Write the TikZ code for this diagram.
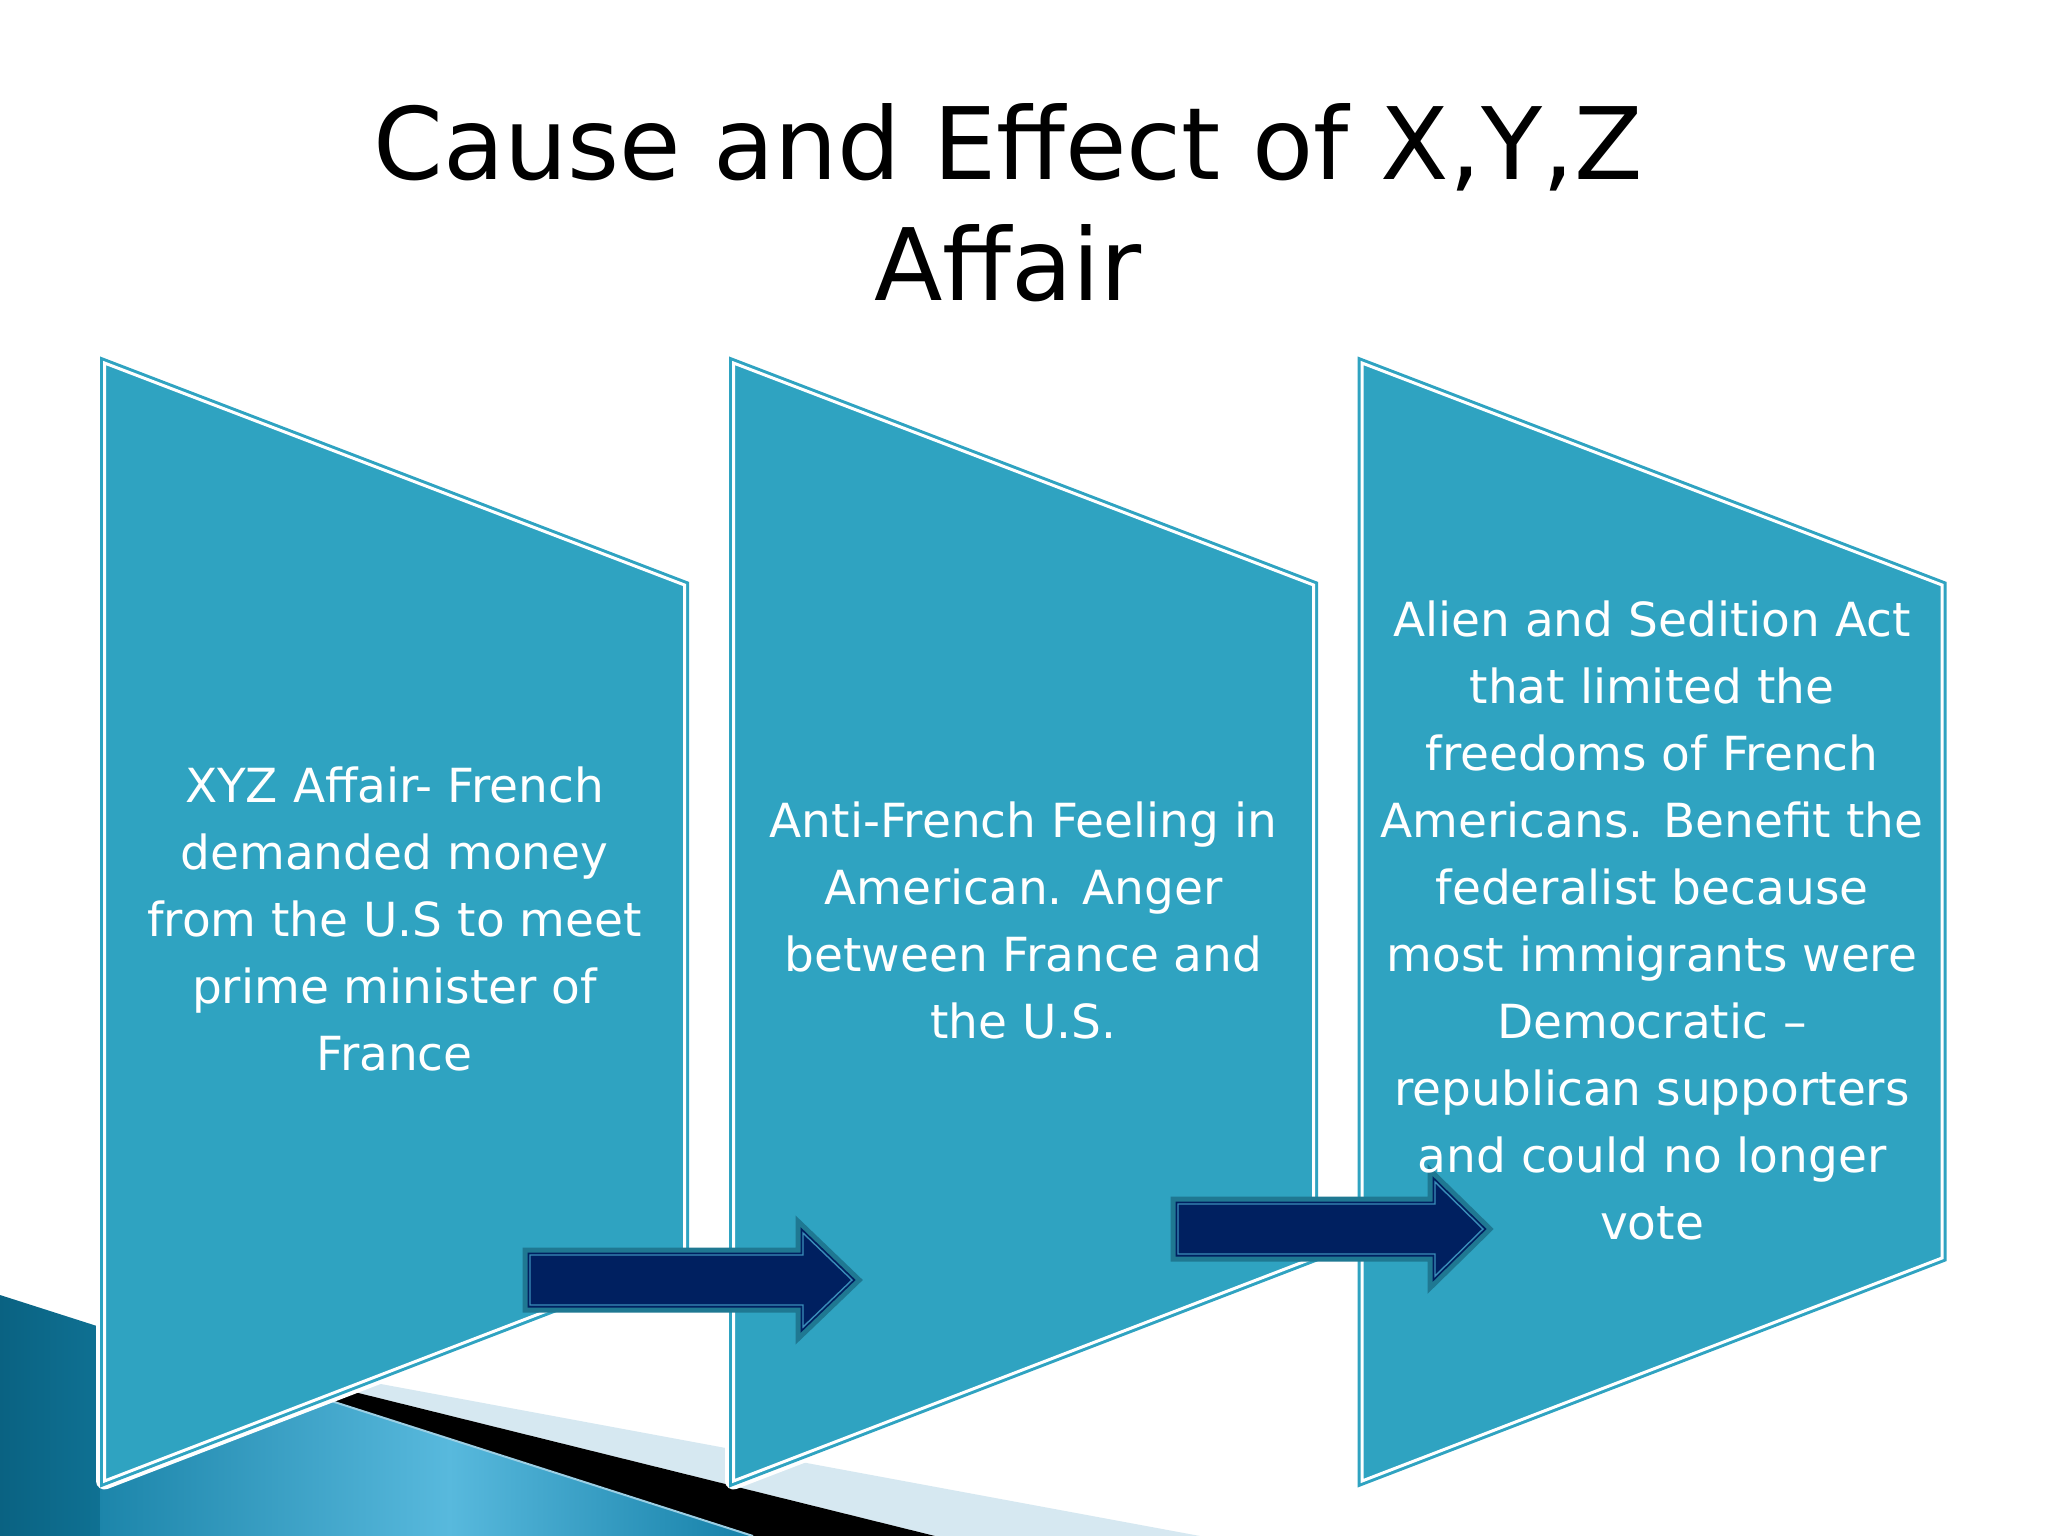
\documentclass[tikz,border=0pt]{standalone}
\usepackage{fontspec}
\setmainfont{DejaVu Sans}
\definecolor{panelc}{HTML}{2FA3C1}
\definecolor{arrowedge}{HTML}{1F7892}
\definecolor{navy}{HTML}{002060}
\definecolor{arrowline}{HTML}{3A8DB8}
\definecolor{bandc}{HTML}{D6E8F1}
\definecolor{bluedarkest}{HTML}{0A6282}
\definecolor{bluedark}{HTML}{0F7193}
\definecolor{blueleft}{HTML}{1C85AA}
\definecolor{bluemid}{HTML}{58B9DD}
\definecolor{blueright}{HTML}{1580A8}
\definecolor{edgeline}{HTML}{9CCFE4}
\tikzset{
  halo/.style={draw=white, line width=17pt, line join=round},
  panel/.style={fill=panelc, draw=panelc, double=white, double distance=3pt, line width=3pt, line join=miter},
  arrowband/.style={draw=arrowedge, line width=15pt, line join=miter},
  arrowcore/.style={fill=navy, draw=navy, double=arrowline, double distance=1.4pt, line width=1.8pt, line join=miter},
  bodytext/.style={text=white, font=\fontsize{47}{67}\selectfont, anchor=base, inner sep=0pt},
  titletext/.style={text=black, font=\fontsize{100}{121}\selectfont, anchor=base, inner sep=0pt}
}
\begin{document}
\begin{tikzpicture}[x=1pt,y=-1pt]
\useasboundingbox (0,0) rectangle (2048,1536);
\fill[white] (0,0) rectangle (2048,1536);

% background decoration, bottom left
\shade[left color=blueleft, right color=bluemid]
  (99,1327) -- (450,1439) -- (450,1536) -- (99,1536) -- cycle;
\shade[left color=bluemid, right color=blueright]
  (449,1439) -- (753,1536) -- (449,1536) -- cycle;
\shade[left color=bluedarkest, right color=bluedark]
  (0,1295) -- (100,1327) -- (100,1536) -- (0,1536) -- cycle;
\fill[bandc] (300,1369) -- (1200,1536) -- (935,1536) -- (300,1378.5) -- cycle;
\fill[black] (300,1378.5) -- (935,1536) -- (753,1536) -- (300,1391) -- cycle;
\draw[edgeline, line width=2pt] (300,1391) -- (753,1536);

% panels
\foreach \x in {104.5,733.5,1362} {
  \draw[halo] (\x,363) -- ({\x+580},585) -- ({\x+580},1258) -- (\x,1481) -- cycle;
  \path[panel] (\x,363) -- ({\x+580},585) -- ({\x+580},1258) -- (\x,1481) -- cycle;
}

% block arrows
\foreach \s/\c/\b/\t in {530/1280/803/852, 1178/1229/1435/1483} {
  \draw[arrowband] (\s,{\c-25}) -- (\b,{\c-25}) -- (\b,{\c-47}) -- (\t,\c) -- (\b,{\c+47}) -- (\b,{\c+25}) -- (\s,{\c+25}) -- cycle;
  \path[arrowcore] (\s,{\c-25}) -- (\b,{\c-25}) -- (\b,{\c-47}) -- (\t,\c) -- (\b,{\c+47}) -- (\b,{\c+25}) -- (\s,{\c+25}) -- cycle;
}

% title
\node[titletext] (title1) at (1008,179) {Cause and Effect of X,Y,Z};
\node[titletext] (title2) at (1008,300) {Affair};

% panel texts
\foreach \l [count=\i] in {XYZ Affair- French, demanded money, from the U.S to meet, prime minister of, France}
  \node[bodytext] (ta\i) at (394.5,{802+(\i-1)*67}) {\l};
\foreach \l [count=\i] in {Anti-French Feeling in, American. Anger, between France and, the U.S.}
  \node[bodytext] (tb\i) at (1023.5,{837+(\i-1)*67}) {\l};
\foreach \l [count=\i] in {Alien and Sedition Act, that limited the, freedoms of French, Americans. Benefit the, federalist because, most immigrants were, Democratic –, republican supporters, and could no longer, vote}
  \node[bodytext] (tc\i) at (1652,{636+(\i-1)*67}) {\l};
\end{tikzpicture}
\end{document}
